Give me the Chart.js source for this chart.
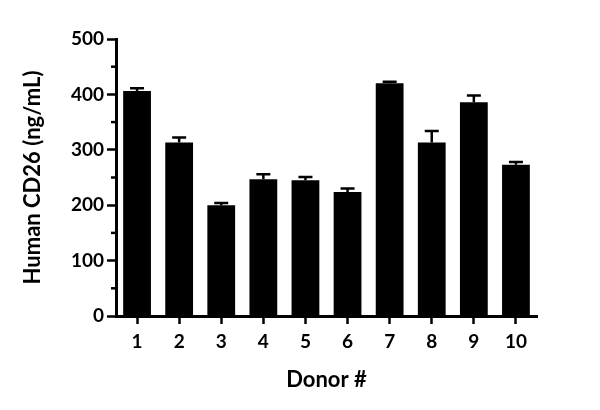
<!DOCTYPE html>
<html>
<head>
<meta charset="utf-8">
<script src="https://cdn.jsdelivr.net/npm/chart.js@4"></script>
<style>
  body { margin: 0; background: #fff; }
  #wrap { width: 600px; height: 410px; }
</style>
</head>
<body>
<div id="wrap"><canvas id="myChart"></canvas></div>
<script>
var donors = ['1', '2', '3', '4', '5', '6', '7', '8', '9', '10'];
var cd26 = [406, 313, 200, 247, 245, 224, 420, 313, 386, 273];
var cd26Err = [5, 9, 4, 9, 6, 6, 3, 21, 12, 5];
var yTicks = [0, 100, 200, 300, 400, 500];
var yMinorTicks = [50, 150, 250, 350, 450];

var fontFamily = 'Lato, "DejaVu Sans", sans-serif';

// upper error bars + minor y ticks
var extras = {
    id: 'extras',
    afterDatasetsDraw: function(chart) {
        var ctx = chart.ctx;
        var x = chart.scales.x;
        var y = chart.scales.y;
        ctx.save();
        ctx.strokeStyle = '#000';
        ctx.lineWidth = 2.5;
        for (var i = 0; i < cd26.length; i++) {
            var cx = x.getPixelForValue(i);
            var y0 = y.getPixelForValue(cd26[i]);
            var y1 = y.getPixelForValue(cd26[i] + cd26Err[i]);
            ctx.beginPath();
            ctx.moveTo(cx, y0);
            ctx.lineTo(cx, y1);
            ctx.moveTo(cx - 7, y1);
            ctx.lineTo(cx + 7, y1);
            ctx.stroke();
        }
        for (var j = 0; j < yMinorTicks.length; j++) {
            var py = y.getPixelForValue(yMinorTicks[j]);
            ctx.beginPath();
            ctx.moveTo(chart.chartArea.left - 5, py);
            ctx.lineTo(chart.chartArea.left, py);
            ctx.stroke();
        }
        ctx.restore();
    }
};

var ctx = document.getElementById('myChart');
var myChart = new Chart(ctx, {
    type: 'bar',
    data: {
        labels: donors,
        datasets: [{
            label: 'Human CD26',
            data: cd26,
            backgroundColor: '#000',
            borderWidth: 0,
            categoryPercentage: 1,
            barPercentage: 0.66
        }]
    },
    options: {
        responsive: true,
        maintainAspectRatio: false,
        animation: false,
        layout: { padding: { top: 39, right: 63, bottom: 0, left: 0 } },
        plugins: {
            legend: { display: false },
            tooltip: { enabled: false }
        },
        scales: {
            x: {
                offset: true,
                grid: {
                    offset: false,
                    drawOnChartArea: false,
                    tickLength: 8,
                    tickWidth: 2.5,
                    tickColor: '#000'
                },
                border: { color: '#000', width: 3 },
                ticks: {
                    color: '#000',
                    padding: 6,
                    font: { family: fontFamily, size: 19, weight: 'bold' }
                },
                title: {
                    display: true,
                    text: 'Donor #',
                    color: '#000',
                    padding: { top: 6, bottom: 17 },
                    font: { family: fontFamily, size: 22, weight: 'bold' }
                },
                afterFit: function(scale) { scale.height = 94; }
            },
            y: {
                min: 0,
                max: 500,
                afterBuildTicks: function(scale) {
                    scale.ticks = yTicks.map(function(v) { return { value: v }; });
                },
                grid: {
                    drawOnChartArea: false,
                    tickLength: 9,
                    tickWidth: 2.5,
                    tickColor: '#000'
                },
                border: { color: '#000', width: 3 },
                ticks: {
                    color: '#000',
                    padding: 3,
                    font: { family: fontFamily, size: 19, weight: 'bold' }
                },
                title: {
                    display: true,
                    text: 'Human CD26 (ng/mL)',
                    color: '#000',
                    padding: { top: 20, bottom: 6 },
                    font: { family: fontFamily, size: 22, weight: 'bold' }
                },
                afterFit: function(scale) { scale.width = 116; }
            }
        }
    },
    plugins: [extras]
});
</script>
</body>
</html>
